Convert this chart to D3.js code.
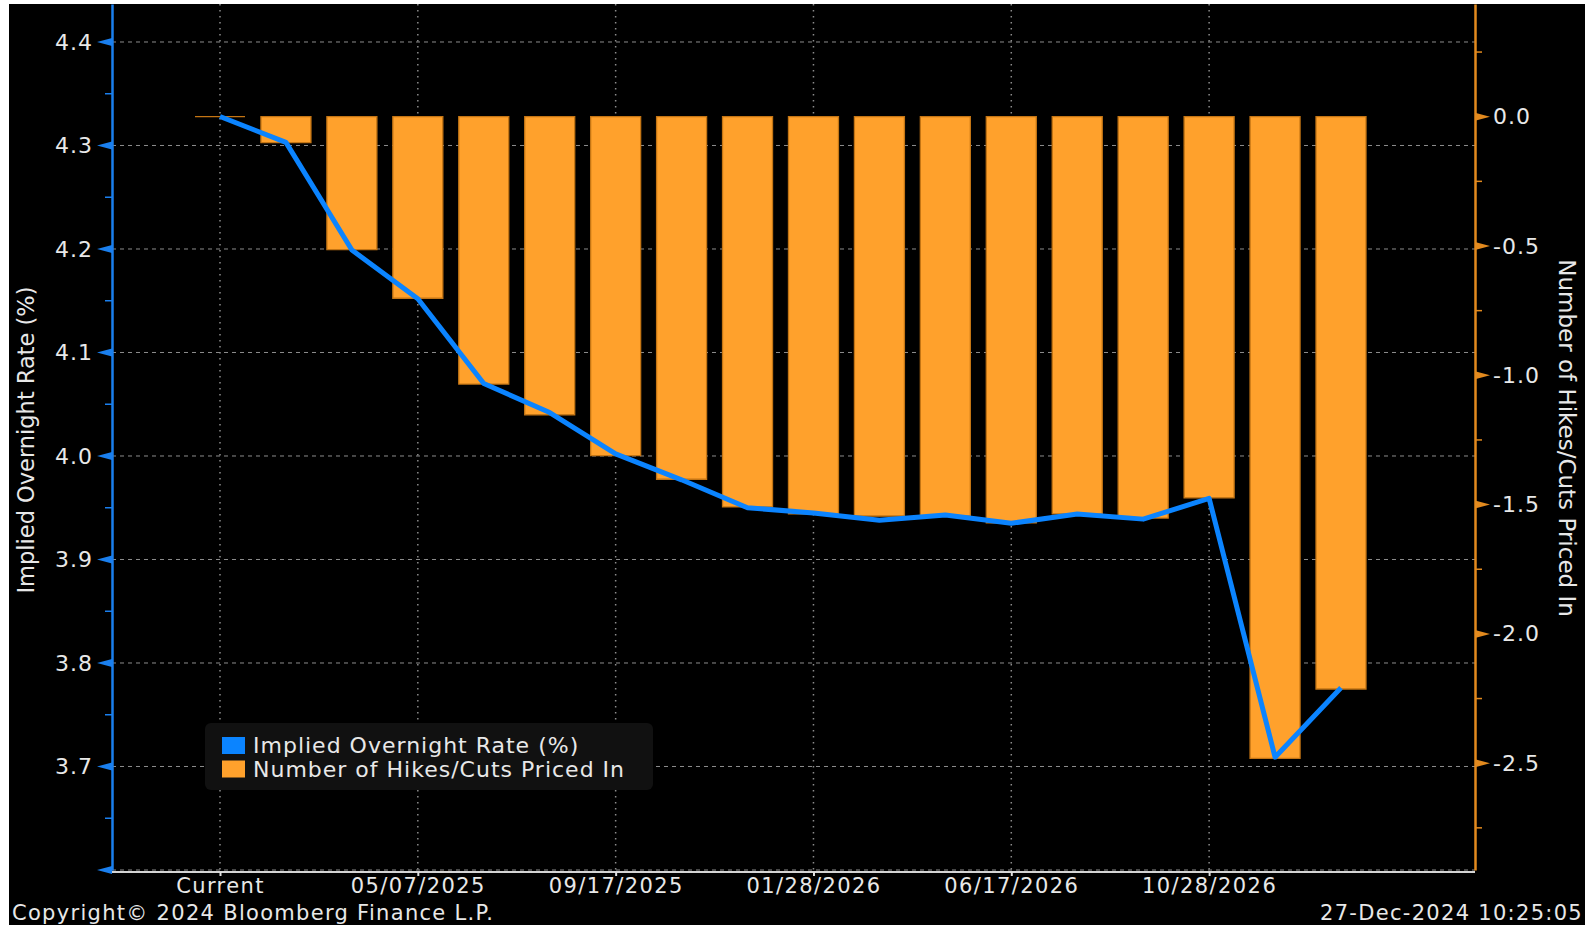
<!DOCTYPE html>
<html>
<head>
<meta charset="utf-8">
<script src="https://cdn.jsdelivr.net/npm/d3@7"></script>
<style>
  html, body { margin: 0; padding: 0; background: #fff; }
  svg { display: block; }
  text { font-family: "DejaVu Sans", sans-serif; fill: #e8e8e8; }
</style>
</head>
<body>
<div id="chart"></div>
<script>
// FOMC meeting dates (first slot is today's rate)
const meetings = ['Current', '01/29/2025', '03/19/2025', '05/07/2025', '06/18/2025', '07/30/2025',
  '09/17/2025', '10/29/2025', '12/10/2025', '01/28/2026', '03/18/2026', '04/29/2026',
  '06/17/2026', '07/29/2026', '09/16/2026', '10/28/2026', '12/09/2026', '01/27/2027'];
const tickLabels = ['Current', '05/07/2025', '09/17/2025', '01/28/2026', '06/17/2026', '10/28/2026'];

// Implied overnight rate (%), left axis
const impliedRate = [4.328, 4.303, 4.199, 4.152, 4.070, 4.042, 4.002, 3.977, 3.950, 3.945,
  3.938, 3.943, 3.935, 3.944, 3.939, 3.959, 3.709, 3.776];
// Number of hikes/cuts priced in, right axis
const hikesCuts = [0, -0.100, -0.514, -0.702, -1.034, -1.153, -1.311, -1.402, -1.509, -1.536,
  -1.544, -1.544, -1.571, -1.536, -1.552, -1.474, -2.481, -2.213];

const leftMajor = [3.6, 3.7, 3.8, 3.9, 4.0, 4.1, 4.2, 4.3, 4.4];
const leftLabels = [3.7, 3.8, 3.9, 4.0, 4.1, 4.2, 4.3, 4.4];
const leftMinor = [3.65, 3.75, 3.85, 3.95, 4.05, 4.15, 4.25, 4.35];
const rightMajor = [0, -0.5, -1.0, -1.5, -2.0, -2.5];
const rightMinor = [0.25, -0.25, -0.75, -1.25, -1.75, -2.25, -2.75];

const BLUE = '#0b84ff';
const AXIS_BLUE = '#1a7fee';
const ORANGE = '#ffa12c';
const AXIS_ORANGE = '#e38a1e';

const Chart = {
  W: 1585, H: 925,
  left: 112, right: 1475, top: 4, bottom: 870,

  render(container) {
    const svg = d3.select(container).append('svg')
      .attr('width', this.W)
      .attr('height', this.H);

    svg.append('rect')
      .attr('x', 9).attr('y', 4)
      .attr('width', this.W - 9).attr('height', this.H - 4)
      .attr('fill', '#000');

    const x = d3.scalePoint().domain(meetings).range([220, 1341]);
    const yL = d3.scaleLinear().domain([3.6, 4.4367]).range([this.bottom, this.top]);
    const yR = d3.scaleLinear().domain([-2.913, 0.4358]).range([this.bottom, this.top]);

    this.drawGrid(svg, x, yL);
    this.drawBars(svg, x, yR);
    this.drawLine(svg, x, yL);
    this.drawAxes(svg, x, yL, yR);
    this.drawLegend(svg);
    this.drawFooter(svg);
  },

  drawGrid(svg, x, yL) {
    const g = svg.append('g');
    g.selectAll('line.h').data(leftMajor).join('line')
      .attr('class', 'h')
      .attr('x1', this.left).attr('x2', this.right)
      .attr('y1', d => yL(d)).attr('y2', d => yL(d))
      .attr('stroke', '#8c8c8c').attr('stroke-width', 1)
      .attr('stroke-dasharray', '4,4');

    g.selectAll('line.v').data(tickLabels).join('line')
      .attr('class', 'v')
      .attr('x1', d => x(d)).attr('x2', d => x(d))
      .attr('y1', this.top).attr('y2', this.bottom)
      .attr('stroke', '#8c8c8c').attr('stroke-width', 1.5)
      .attr('stroke-dasharray', '1.5,4.5');
  },

  drawBars(svg, x, yR) {
    const bw = 50;
    // paths rather than rects so the zero-height "Current" bar still shows its outline
    svg.append('g').selectAll('path').data(hikesCuts).join('path')
      .attr('d', (d, i) => {
        const x0 = x(meetings[i]) - bw / 2;
        const y0 = yR(Math.max(0, d));
        const h = Math.abs(yR(d) - yR(0));
        return `M${x0},${y0}h${bw}v${h}h${-bw}Z`;
      })
      .attr('fill', ORANGE)
      .attr('stroke', '#c47514')
      .attr('stroke-width', 1.3);
  },

  drawLine(svg, x, yL) {
    svg.append('path')
      .datum(impliedRate)
      .attr('fill', 'none')
      .attr('stroke', BLUE)
      .attr('stroke-width', 5)
      .attr('stroke-linejoin', 'round')
      .attr('d', d3.line()
        .x((d, i) => x(meetings[i]))
        .y(d => yL(d)));
  },

  drawAxes(svg, x, yL, yR) {
    const L = this.left, R = this.right;

    // left axis
    const gl = svg.append('g').attr('transform', `translate(${L},0)`)
      .call(d3.axisLeft(yL).tickValues(leftLabels).tickSize(0).tickPadding(19)
        .tickFormat(d3.format('.1f')));
    gl.select('.domain').attr('stroke', AXIS_BLUE).attr('stroke-width', 2.5);
    gl.selectAll('text').attr('font-size', 22).attr('letter-spacing', 1).attr('fill', '#e8e8e8');

    svg.append('g').selectAll('path').data(leftMajor).join('path')
      .attr('d', d => `M${L},${yL(d) - 4}L${L - 15},${yL(d)}L${L},${yL(d) + 4}Z`)
      .attr('fill', AXIS_BLUE);
    svg.append('g').selectAll('line').data(leftMinor).join('line')
      .attr('x1', L - 7).attr('x2', L)
      .attr('y1', d => yL(d)).attr('y2', d => yL(d))
      .attr('stroke', AXIS_BLUE).attr('stroke-width', 1.5);

    // right axis
    const gr = svg.append('g').attr('transform', `translate(${R},0)`)
      .call(d3.axisRight(yR).tickValues(rightMajor).tickSize(0).tickPadding(18)
        .tickFormat(d => d.toFixed(1)));
    gr.select('.domain').attr('stroke', AXIS_ORANGE).attr('stroke-width', 2.5);
    gr.selectAll('text').attr('font-size', 22).attr('letter-spacing', 1).attr('fill', '#e8e8e8');

    svg.append('g').selectAll('path').data(rightMajor).join('path')
      .attr('d', d => `M${R},${yR(d) - 4}L${R + 15},${yR(d)}L${R},${yR(d) + 4}Z`)
      .attr('fill', AXIS_ORANGE);
    svg.append('g').selectAll('line').data(rightMinor).join('line')
      .attr('x1', R).attr('x2', R + 7)
      .attr('y1', d => yR(d)).attr('y2', d => yR(d))
      .attr('stroke', AXIS_ORANGE).attr('stroke-width', 1.5);

    // bottom axis
    const gb = svg.append('g').attr('transform', `translate(0,${this.bottom + 2})`)
      .call(d3.axisBottom(x).tickValues(tickLabels).tickSize(4).tickPadding(2));
    gb.select('.domain').attr('d', `M${L},0H${R}`).attr('stroke', '#d4d4d4').attr('stroke-width', 2);
    gb.selectAll('.tick line').attr('stroke', '#e0e0e0').attr('stroke-width', 2);
    gb.selectAll('text').attr('font-size', 21).attr('letter-spacing', 1.4).attr('fill', '#e8e8e8');

    // axis titles
    svg.append('text')
      .attr('transform', 'translate(34,440) rotate(-90)')
      .attr('text-anchor', 'middle')
      .attr('font-size', 22.5)
      .text('Implied Overnight Rate (%)');
    svg.append('text')
      .attr('transform', 'translate(1559,438) rotate(90)')
      .attr('text-anchor', 'middle')
      .attr('font-size', 23)
      .text('Number of Hikes/Cuts Priced In');
  },

  drawLegend(svg) {
    const items = [
      { label: 'Implied Overnight Rate (%)', color: BLUE },
      { label: 'Number of Hikes/Cuts Priced In', color: ORANGE },
    ];
    const g = svg.append('g').attr('transform', 'translate(205,723)');
    g.append('rect')
      .attr('width', 448).attr('height', 67).attr('rx', 6)
      .attr('fill', '#111');
    const row = g.selectAll('g').data(items).join('g')
      .attr('transform', (d, i) => `translate(17,${14 + i * 23.5})`);
    row.append('rect')
      .attr('width', 23).attr('height', 17)
      .attr('fill', d => d.color);
    row.append('text')
      .attr('x', 31).attr('y', 16)
      .attr('font-size', 22).attr('letter-spacing', 1)
      .text(d => d.label);
  },

  drawFooter(svg) {
    svg.append('text')
      .attr('x', 12).attr('y', 920)
      .attr('font-size', 21).attr('letter-spacing', 1.3)
      .text('Copyright\u00a9 2024 Bloomberg Finance L.P.');
    svg.append('text')
      .attr('x', 1583).attr('y', 920)
      .attr('text-anchor', 'end')
      .attr('font-size', 21).attr('letter-spacing', 1.3)
      .text('27-Dec-2024 10:25:05');
  },
};

Chart.render(document.getElementById('chart'));
</script>
</body>
</html>
